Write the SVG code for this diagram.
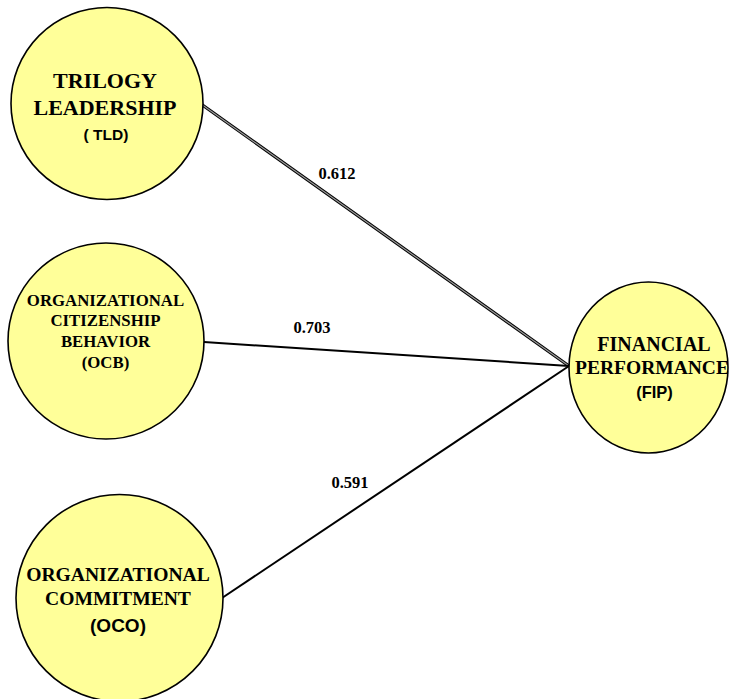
<svg xmlns="http://www.w3.org/2000/svg" width="730" height="699" viewBox="0 0 730 699">
<style>
.node{fill:#ffff99;stroke:#000;stroke-width:1.6}
.t{font-family:"Liberation Serif","Times New Roman",serif;font-weight:bold;fill:#000;text-anchor:middle}
.s{font-family:"Liberation Sans",Arial,sans-serif;font-weight:bold;fill:#000;text-anchor:middle}
.lbl{font-family:"Liberation Serif","Times New Roman",serif;font-weight:bold;font-size:16.5px;fill:#000;text-anchor:middle}
.edge{stroke:#000;stroke-width:2;fill:none}
</style>
<rect width="730" height="699" fill="#fff"/>
<g id="connectors">
<line x1="201" y1="104" x2="569" y2="366" stroke="#000" stroke-width="3.2"/>
<line x1="201" y1="104" x2="569" y2="366" stroke="#999" stroke-width="1.2"/>
<line class="edge" x1="204" y1="342" x2="569" y2="366"/>
<line class="edge" x1="222" y1="598" x2="569" y2="366"/>
<text class="lbl" x="337" y="179">0.612</text>
<text class="lbl" x="312" y="333">0.703</text>
<text class="lbl" x="350" y="488">0.591</text>
</g>
<g id="TLD">
<circle class="node" cx="107" cy="103.5" r="96"/>
<text class="t" x="105" y="87.5" font-size="22">TRILOGY</text>
<text class="t" x="105" y="115" font-size="22">LEADERSHIP</text>
<text class="s" x="106" y="140" font-size="15.5">( TLD)</text>
</g>
<g id="OCB">
<circle class="node" cx="106" cy="341" r="98"/>
<text class="t" x="105.5" y="306" font-size="16.8">ORGANIZATIONAL</text>
<text class="t" x="105.5" y="326" font-size="16.8">CITIZENSHIP</text>
<text class="t" x="105.5" y="346.5" font-size="16.8">BEHAVIOR</text>
<text class="t" x="105.5" y="368" font-size="16.8">(OCB)</text>
</g>
<g id="OCO">
<circle class="node" cx="119.5" cy="598" r="103.5"/>
<text class="t" x="118" y="580.5" font-size="19.6">ORGANIZATIONAL</text>
<text class="t" x="118" y="605" font-size="19.6">COMMITMENT</text>
<text class="s" x="118" y="631.5" font-size="19">(OCO)</text>
</g>
<g id="FIP">
<ellipse class="node" cx="648.5" cy="367.5" rx="79.5" ry="85.5"/>
<text class="t" x="654" y="351" font-size="20">FINANCIAL</text>
<text class="t" x="652" y="374" font-size="19.5">PERFORMANCE</text>
<text class="s" x="654.5" y="398" font-size="16.5">(FIP)</text>
</g>
</svg>
